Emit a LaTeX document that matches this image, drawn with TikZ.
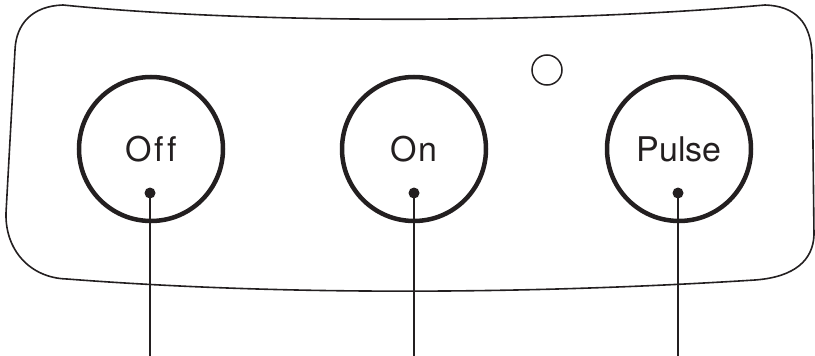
\documentclass[tikz,border=0pt]{standalone}
\usepackage{fontspec}
\setmainfont{TeX Gyre Heros}
\definecolor{ink}{HTML}{231F20}
\begin{document}
\begin{tikzpicture}[x=1pt,y=-1pt,
  button/.style={circle,draw=ink,line width=4.5pt,minimum size=144pt,inner sep=0pt,text=ink,font=\fontsize{34}{40}\selectfont},
  led/.style={circle,draw=ink,line width=1.5pt,minimum size=30pt,inner sep=0pt},
  pin/.style={circle,fill=ink,minimum size=11pt,inner sep=0pt},
  lead/.style={draw=ink,line width=2.5pt},
  panel/.style={draw=ink,line width=1.6pt}]
\useasboundingbox (0,0) rectangle (815,356);
% panel outline
\draw[panel] (63,5) .. controls (32,6) and (16,24) .. (15,50)
  -- (6,213)
  .. controls (5,250) and (30,278) .. (67,279)
  .. controls (300,297) and (550,293) .. (755,280)
  .. controls (795,277) and (813,260) .. (814,235)
  -- (812,55)
  .. controls (811,22) and (795,6) .. (765,5)
  .. controls (550,24) and (250,24) .. (63,5) -- cycle;
% buttons
\node[button] (off) at (151,149) {O\kern3ptf\kern3ptf};
\node[button] (on) at (414,149) {O\kern1.5ptn};
\node[button] (pulse) at (679,149) {Pulse};
\node[led] (led) at (547,70) {};
% pins
\node[pin] (poff) at (150,193) {};
\node[pin] (pon) at (414,193) {};
\node[pin] (ppulse) at (678,193) {};
\coordinate (eoff) at (150,356);
\coordinate (eon) at (414,356);
\coordinate (epulse) at (678,356);
\draw[lead] (poff.center) -- (eoff);
\draw[lead] (pon.center) -- (eon);
\draw[lead] (ppulse.center) -- (epulse);
\end{tikzpicture}
\end{document}
